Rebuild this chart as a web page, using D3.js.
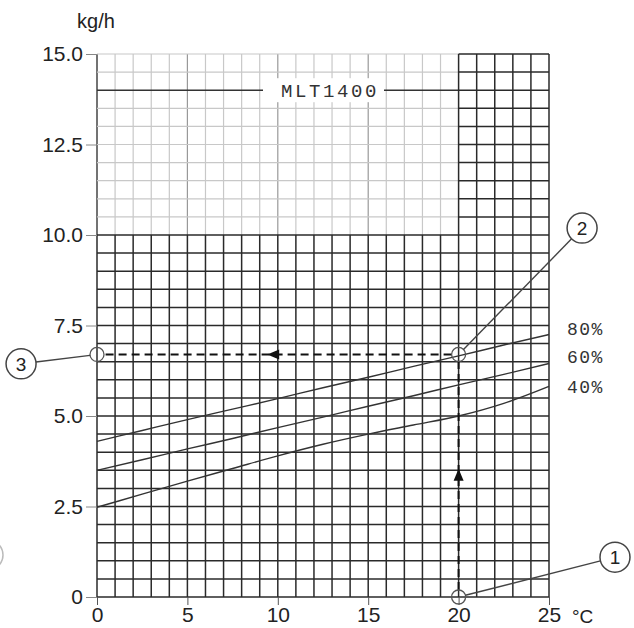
<!DOCTYPE html>
<html>
<head>
<meta charset="utf-8">
<script src="https://cdn.jsdelivr.net/npm/d3@7"></script>
<style>
  body { margin: 0; background: #fff; }
  text { font-family: "Liberation Sans", Arial, sans-serif; fill: #222; }
  .mono { font-family: "Liberation Mono", "Courier New", monospace; fill: #333; }
</style>
</head>
<body>
<div id="chart"></div>
<script>
// data
var xTicks = [0, 5, 10, 15, 20, 25];
var yTicks = [0, 2.5, 5, 7.5, 10, 12.5, 15];
var temps = [0, 2.5, 5, 7.5, 10, 12.5, 15, 17.5, 20, 22.5, 25];
var rh80 = [4.3, 4.6, 4.9, 5.19, 5.48, 5.78, 6.07, 6.37, 6.66, 6.96, 7.25];
var rh60 = [3.5, 3.79, 4.09, 4.38, 4.68, 4.97, 5.27, 5.56, 5.86, 6.15, 6.45];
var rh40 = [2.48, 2.84, 3.2, 3.55, 3.9, 4.22, 4.5, 4.75, 5.0, 5.35, 5.82];
var seriesNames = ["80%", "60%", "40%"];
var modelName = "MLT1400";
var readTemp = 20, readFlow = 6.7;
// callout bubbles: number, position (data units)
var callouts = [
    {n: "1", x: 28.65, y: 1.1, px: 20, py: 0},
    {n: "2", x: 26.83, y: 10.19, px: 20, py: 6.7},
    {n: "3", x: -4.2, y: 6.44, px: 0, py: 6.7}
];

function init() {
    var margin = {top: 54, right: 85, bottom: 31, left: 97},
        w = 634 - margin.left - margin.right,
        h = 628 - margin.top - margin.bottom;

    var svg = d3.select("#chart")
        .append("svg")
        .attr("width", 634)
        .attr("height", 628)
        .append("g")
        .attr("transform", `translate(${margin.left}, ${margin.top})`);

    var xScale = d3.scaleLinear().domain([0, 25]).range([0, w]);
    var yScale = d3.scaleLinear().domain([0, 15]).range([h, 0]);

    // light grid (upper left part)
    var light = svg.append("g");
    d3.range(0, 20).forEach(function(i) {
        light.append("line")
            .attr("x1", xScale(i)).attr("x2", xScale(i))
            .attr("y1", yScale(10)).attr("y2", yScale(15))
            .attr("stroke", i == 0 ? "#444" : (i % 5 == 0 ? "#999" : "#c8c8c8"))
            .attr("stroke-width", i == 0 ? 1.5 : 1.2);
    });
    d3.range(21, 31).forEach(function(j) {
        var v = j / 2;
        light.append("line")
            .attr("x1", xScale(0)).attr("x2", xScale(20))
            .attr("y1", yScale(v)).attr("y2", yScale(v))
            .attr("stroke", v == 14 ? "#333" : "#c8c8c8")
            .attr("stroke-width", v == 14 ? 1.5 : 1.2);
    });

    // dark grid
    var dark = svg.append("g").attr("stroke", "#2a2a2a").attr("stroke-width", 1.5);
    d3.range(0, 26).forEach(function(i) {
        dark.append("line")
            .attr("x1", xScale(i)).attr("x2", xScale(i))
            .attr("y1", yScale(0)).attr("y2", yScale(i >= 20 ? 15 : 10));
    });
    d3.range(0, 31).forEach(function(j) {
        var v = j / 2;
        dark.append("line")
            .attr("x1", xScale(v <= 10 ? 0 : 20)).attr("x2", xScale(25))
            .attr("y1", yScale(v)).attr("y2", yScale(v));
    });

    // axes (ticks only, grid draws the lines)
    var yAxis = svg.append("g")
        .call(d3.axisLeft(yScale).tickValues(yTicks).tickSize(11).tickPadding(3)
            .tickFormat(function(d) { return d == 0 ? "0" : d3.format(".1f")(d); }));
    yAxis.select(".domain").remove();
    yAxis.selectAll(".tick line").attr("stroke", "#888");
    yAxis.selectAll("text").style("font-size", "21px").attr("fill", "#222");

    var xAxis = svg.append("g")
        .attr("transform", `translate(0, ${h})`)
        .call(d3.axisBottom(xScale).tickValues(xTicks).tickSize(8).tickPadding(2));
    xAxis.select(".domain").remove();
    xAxis.selectAll(".tick line").attr("stroke", "#555");
    xAxis.selectAll("text").style("font-size", "21px").attr("fill", "#222");

    svg.append("text")
        .attr("x", w + 23).attr("y", h + 26)
        .style("font-size", "19px")
        .text("°C");

    svg.append("text")
        .attr("x", -1).attr("y", 28 - margin.top)
        .attr("text-anchor", "middle")
        .style("font-size", "20px")
        .text("kg/h");

    // model label on white box
    svg.append("rect")
        .attr("x", 166).attr("y", yScale(14) - 12)
        .attr("width", 121).attr("height", 24)
        .attr("fill", "#fff");
    svg.append("text")
        .attr("class", "mono")
        .attr("x", 184).attr("y", yScale(14) + 7)
        .style("font-size", "19px")
        .style("letter-spacing", "2.6px")
        .text(modelName);

    // humidity curves
    var line = d3.line()
        .x(function(d, i) { return xScale(temps[i]); })
        .y(function(d) { return yScale(d); })
        .curve(d3.curveMonotoneX);

    [rh80, rh60, rh40].forEach(function(s, k) {
        svg.append("path")
            .datum(s)
            .attr("d", line)
            .attr("fill", "none")
            .attr("stroke", "#333")
            .attr("stroke-width", 1.4);

        svg.append("text")
            .attr("class", "mono")
            .attr("x", w + 18)
            .attr("y", [329, 357, 387][k] - margin.top + 6)
            .style("font-size", "18px")
            .style("letter-spacing", "1.5px")
            .text(seriesNames[k]);
    });

    // reading path (dashed)
    svg.append("line")
        .attr("x1", xScale(readTemp)).attr("x2", xScale(readTemp))
        .attr("y1", yScale(0) - 7).attr("y2", yScale(readFlow) + 7)
        .attr("stroke", "#111").attr("stroke-width", 2)
        .attr("stroke-dasharray", "8,5");
    svg.append("line")
        .attr("x1", xScale(readTemp) - 7).attr("x2", xScale(0) + 7)
        .attr("y1", yScale(readFlow)).attr("y2", yScale(readFlow))
        .attr("stroke", "#111").attr("stroke-width", 2)
        .attr("stroke-dasharray", "8,5");

    // arrows
    var ax = xScale(readTemp), ay = yScale(3.35);
    svg.append("path")
        .attr("d", `M${ax},${ay - 7} L${ax - 5},${ay + 5} L${ax + 5},${ay + 5} Z`)
        .attr("fill", "#111");
    var bx = xScale(9.8), by = yScale(readFlow);
    svg.append("path")
        .attr("d", `M${bx - 7},${by} L${bx + 5},${by - 5} L${bx + 5},${by + 5} Z`)
        .attr("fill", "#111");

    // callouts
    callouts.forEach(function(c) {
        var sx = xScale(c.px), sy = yScale(c.py),
            cx = xScale(c.x), cy = yScale(c.y);
        var dx = cx - sx, dy = cy - sy, len = Math.sqrt(dx * dx + dy * dy);
        svg.append("circle")
            .attr("cx", sx).attr("cy", sy).attr("r", 7)
            .attr("fill", "none").attr("stroke", "#555").attr("stroke-width", 1.3);
        svg.append("line")
            .attr("x1", sx + dx / len * 7).attr("y1", sy + dy / len * 7)
            .attr("x2", cx - dx / len * 15).attr("y2", cy - dy / len * 15)
            .attr("stroke", "#444").attr("stroke-width", 1.4);
        svg.append("circle")
            .attr("cx", cx).attr("cy", cy).attr("r", 15)
            .attr("fill", "#fff").attr("stroke", "#444").attr("stroke-width", 1.5);
        svg.append("text")
            .attr("x", cx).attr("y", cy + 7)
            .attr("text-anchor", "middle")
            .style("font-size", "19px")
            .text(c.n);
    });

    // cut-off bubble at left edge
    svg.append("circle")
        .attr("cx", -margin.left - 12).attr("cy", 555 - margin.top).attr("r", 15)
        .attr("fill", "none").attr("stroke", "#bbb").attr("stroke-width", 1.5);
}

window.onload = init;
</script>
</body>
</html>
